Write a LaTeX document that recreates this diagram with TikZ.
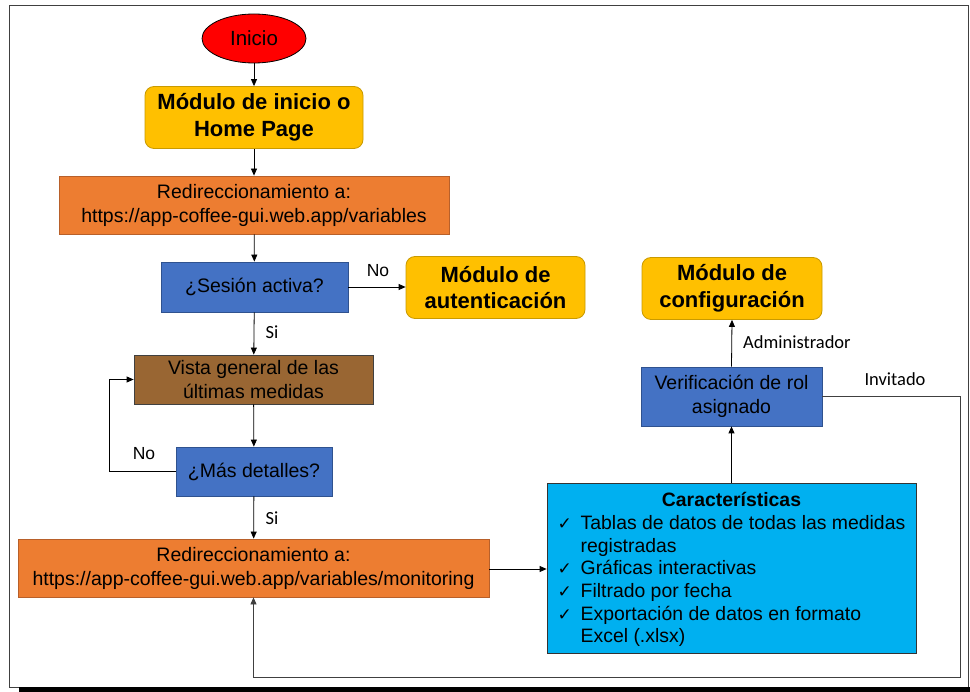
\documentclass[tikz,border=0pt]{standalone}
\usepackage{fontspec}
\setmainfont{Liberation Sans}
\newfontfamily\calib{Carlito}
\newfontfamily\djv{DejaVu Sans}
\usetikzlibrary{arrows.meta,shapes.geometric}
\definecolor{cgold}{HTML}{FFC000}
\definecolor{cgoldd}{HTML}{C99A00}
\definecolor{corange}{HTML}{ED7D31}
\definecolor{corangd}{HTML}{B8602A}
\definecolor{cblue}{HTML}{4472C4}
\definecolor{cblued}{HTML}{2F528F}
\definecolor{cbrown}{HTML}{996633}
\definecolor{ccyan}{HTML}{00B0F0}
\definecolor{cframe}{HTML}{404040}
\newcommand{\ck}{\makebox[23pt][l]{\djv\fontsize{17}{20}\selectfont\symbol{"2713}}}
\begin{document}
\begin{tikzpicture}[x=1pt,y=-1pt,
  box/.style={rectangle, draw, line width=0.8pt, inner sep=0pt, align=center, font=\fontsize{19.5}{24}\selectfont},
  gbox/.style={box, rounded corners=9pt, fill=cgold, draw=cgoldd, font=\bfseries\fontsize{22}{26.5}\selectfont},
  obox/.style={box, fill=corange, draw=corangd},
  bbox/.style={box, fill=cblue, draw=cblued},
  arr/.style={-{Triangle[length=7pt,width=6pt]}, line width=0.8pt},
  lbl/.style={font=\calib\fontsize{18.5}{20}\selectfont, inner sep=0pt},
  lbla/.style={font=\fontsize{17.5}{20}\selectfont, inner sep=0pt}]
\useasboundingbox (0,0) rectangle (970,692);
\fill[white] (0,0) rectangle (970,692);
\draw[cframe, line width=0.9pt] (9,5) rectangle (968,687);
\fill[black] (19,687) rectangle (970,692);

\node[ellipse, draw, line width=0.8pt, fill=red, minimum width=104, minimum height=49, inner sep=0pt, font=\fontsize{20.5}{24}\selectfont] (ini) at (254,38.5) {Inicio};
\node[gbox, minimum width=218, minimum height=62] (home) at (254,117.5) {Módulo de inicio o\\Home Page};
\node[obox, minimum width=390, minimum height=58] (red1) at (254,205) {Redireccionamiento a:\\https://app-coffee-gui.web.app/variables};
\node[bbox, minimum width=187, minimum height=50] (ses) at (254.5,287) {¿Sesión activa?};
\node[gbox, minimum width=179, minimum height=62] (aut) at (495.5,287.5) {Módulo de\\autenticación};
\node[gbox, minimum width=180, minimum height=62] (conf) at (732,288.5) {Módulo de\\configuración};
\node[box, fill=cbrown, draw=cframe, minimum width=239, minimum height=49] (vista) at (253.5,379.5) {Vista general de las\\últimas medidas};
\node[bbox, minimum width=156, minimum height=49] (mas) at (254,471.5) {¿Más detalles?};
\node[obox, minimum width=471, minimum height=58] (red2) at (253.5,568) {Redireccionamiento a:\\https://app-coffee-gui.web.app/variables/monitoring};
\node[box, fill=ccyan, draw=black!80, minimum width=369, minimum height=170] (car) at (731.5,568) {};
\node[inner sep=0pt, align=center, font=\fontsize{19.4}{22.7}\selectfont] (cartxt) at (731.5,571) {%
  \textbf{Características}\\[6pt]
  \begin{tabular}{@{}l@{}l@{}}
  \ck & Tablas de datos de todas las medidas\\
      & registradas\\
  \ck & Gráficas interactivas\\
  \ck & Filtrado por fecha\\
  \ck & Exportación de datos en formato\\
      & Excel (.xlsx)
  \end{tabular}};
\node[bbox, minimum width=181, minimum height=59] (ver) at (731.5,396.5) {Verificación de rol\\asignado};

\draw[arr] (ini) -- (home);
\draw[arr] (home) -- (red1);
\draw[arr] (red1) -- (ses);
\draw[arr] (ses.east) -- (aut.west |- ses.east);
\node[lbla] (lno1) at (378,271) {No};
\draw[arr] (ses) -- (vista);
\node[lbl] (lsi1) at (272,332) {Si};
\draw[arr] (vista) -- (mas);
\draw[arr] (mas.west) -- ++(-66,0) |- (vista.west);
\node[lbla] (lno2) at (144,454) {No};
\draw[arr] (mas) -- (red2);
\node[lbl] (lsi2) at (272,518) {Si};
\draw[arr] (red2.east |- 0,569) -- (car.west |- 0,569);
\draw[arr] (car.north) -- (ver.south);
\draw[arr] (ver.north) -- (conf.south);
\node[lbl, anchor=west] (ladm) at (743,342) {Administrador};
\coordinate (cinv) at (960,677);
\draw[arr, black!75] (ver.east) -| (cinv) -| (red2.south);
\node[lbl] (linv) at (895,379) {Invitado};
\end{tikzpicture}
\end{document}
